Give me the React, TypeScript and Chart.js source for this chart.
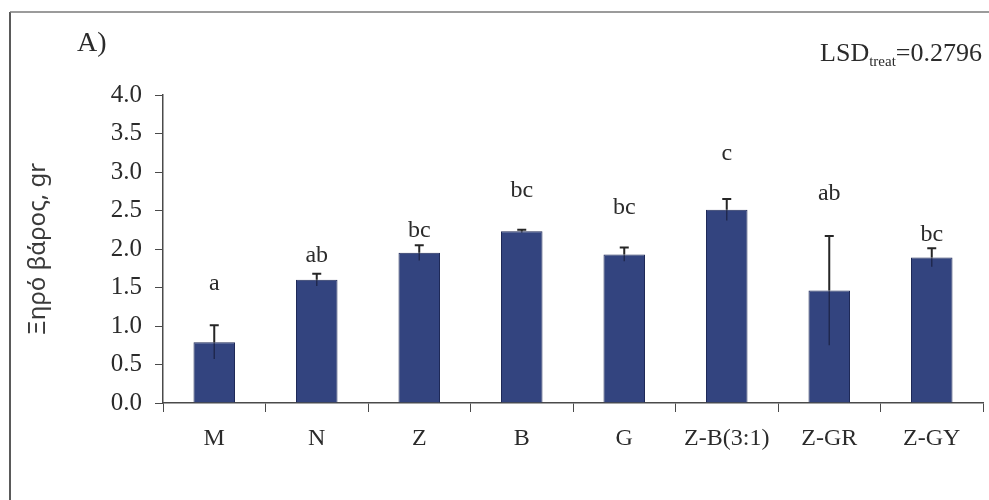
import { useEffect, useRef } from "react";
import { Chart, registerables } from "chart.js";

Chart.register(...registerables);

// Treatments and mean dry weight (g) with standard errors
const treatments = ["M", "N", "Z", "B", "G", "Z-B(3:1)", "Z-GR", "Z-GY"];
const dryWeight = [0.79, 1.6, 1.95, 2.23, 1.93, 2.51, 1.46, 1.89];
const stdError = [0.22, 0.08, 0.1, 0.02, 0.09, 0.14, 0.71, 0.12];

// Significance groups and the axis level where each letter sits
const groupLetters = ["a", "ab", "bc", "bc", "bc", "c", "ab", "bc"];
const letterLevels = [1.47, 1.83, 2.16, 2.68, 2.46, 3.16, 2.64, 2.11];

const yMin = 0;
const yMax = 4;
const yStep = 0.5;

const panelLabel = "A)";
const lsdLabel = "LSD";
const lsdSub = "treat";
const lsdValue = "=0.2796";
const yTitle = "Ξηρό βάρος, gr";

const SERIF = '"Liberation Serif", "Times New Roman", Times, serif';
const SANS = '"Noto Sans", "DejaVu Sans", sans-serif';
const INK = "#2b2b2b";
const AXIS = "#4a4a4a";

const decorPlugin = {
  id: "decor",
  beforeDraw(chart: any) {
    const { ctx, width, height } = chart;
    ctx.save();
    ctx.fillStyle = "#ffffff";
    ctx.fillRect(0, 0, width, height);
    // outer frame (left and top edges)
    ctx.strokeStyle = "#5a5a5a";
    ctx.lineWidth = 2;
    ctx.beginPath();
    ctx.moveTo(10, height + 2);
    ctx.lineTo(10, 12);
    ctx.stroke();
    ctx.strokeStyle = "#7a7a7a";
    ctx.lineWidth = 1.5;
    ctx.beginPath();
    ctx.moveTo(10, 12);
    ctx.lineTo(width + 2, 12);
    ctx.stroke();
    ctx.restore();
  },
  afterDatasetsDraw(chart: any) {
    const { ctx } = chart;
    const y = chart.scales.y;
    const meta = chart.getDatasetMeta(0);
    ctx.save();
    meta.data.forEach((bar: any, i: number) => {
      const x = bar.x;
      const v = y.getPixelForValue(dryWeight[i]);
      const hi = y.getPixelForValue(dryWeight[i] + stdError[i]);
      const lo = y.getPixelForValue(dryWeight[i] - stdError[i]);
      // lower whisker, seen through the bar
      ctx.strokeStyle = "rgba(15,18,40,0.55)";
      ctx.lineWidth = 1.5;
      ctx.beginPath();
      ctx.moveTo(x, v);
      ctx.lineTo(x, lo);
      ctx.stroke();
      // upper whisker and cap
      ctx.strokeStyle = "#262626";
      ctx.lineWidth = 2;
      ctx.beginPath();
      ctx.moveTo(x, v);
      ctx.lineTo(x, hi);
      ctx.moveTo(x - 4.5, hi);
      ctx.lineTo(x + 4.5, hi);
      ctx.stroke();
      // group letter
      ctx.fillStyle = INK;
      ctx.font = `24px ${SERIF}`;
      ctx.textAlign = "center";
      ctx.textBaseline = "alphabetic";
      ctx.fillText(groupLetters[i], x, y.getPixelForValue(letterLevels[i]));
    });
    ctx.restore();
  },
  afterDraw(chart: any) {
    const { ctx } = chart;
    ctx.save();
    ctx.fillStyle = INK;
    ctx.textBaseline = "alphabetic";
    ctx.textAlign = "left";
    ctx.font = `28px ${SERIF}`;
    ctx.fillText(panelLabel, 77, 51);

    // LSD note, right aligned
    const mainFont = `26px ${SERIF}`;
    const subFont = `15px ${SERIF}`;
    ctx.font = mainFont;
    const w1 = ctx.measureText(lsdLabel).width;
    const w3 = ctx.measureText(lsdValue).width;
    ctx.font = subFont;
    const w2 = ctx.measureText(lsdSub).width;
    const right = 982;
    let xPos = right - (w1 + w2 + w3);
    const base = 61;
    ctx.font = mainFont;
    ctx.fillText(lsdLabel, xPos, base);
    xPos += w1;
    ctx.font = subFont;
    ctx.fillText(lsdSub, xPos, base + 5);
    xPos += w2;
    ctx.font = mainFont;
    ctx.fillText(lsdValue, xPos, base);
    ctx.restore();
  },
};

export default function App() {
  const canvasRef = useRef<HTMLCanvasElement | null>(null);

  useEffect(() => {
    document.body.style.margin = "0";
    const canvas = canvasRef.current;
    if (!canvas) return;
    const chart = new Chart(canvas, {
      type: "bar",
      data: {
        labels: treatments,
        datasets: [
          {
            data: dryWeight,
            backgroundColor: "#33447f",
            borderColor: "#1f2a58",
            borderWidth: 1,
            categoryPercentage: 1,
            barPercentage: 0.405,
          },
        ],
      },
      options: {
        responsive: false,
        animation: false,
        devicePixelRatio: 1,
        layout: { padding: { top: 95, right: 6, left: 0, bottom: 0 } },
        plugins: {
          legend: { display: false },
          tooltip: { enabled: false },
        },
        scales: {
          x: {
            grid: {
              display: true,
              drawOnChartArea: false,
              drawTicks: true,
              tickLength: 9,
              tickColor: AXIS,
              tickWidth: 1,
              offset: true,
            },
            border: { display: true, color: AXIS, width: 1.5 },
            ticks: {
              color: INK,
              padding: 12,
              font: { family: SERIF, size: 24 },
              maxRotation: 0,
              autoSkip: false,
            },
            afterFit: (scale: any) => {
              scale.height = 97;
            },
          },
          y: {
            min: yMin,
            max: yMax,
            grid: {
              display: true,
              drawOnChartArea: false,
              drawTicks: true,
              tickLength: 8,
              tickColor: AXIS,
              tickWidth: 1,
            },
            border: { display: true, color: AXIS, width: 1.5 },
            ticks: {
              stepSize: yStep,
              color: INK,
              padding: 13,
              font: { family: SERIF, size: 25 },
              callback: (v: any) => Number(v).toFixed(1),
            },
            title: {
              display: true,
              text: yTitle,
              color: "#3a3a3a",
              font: { family: SANS, size: 24 },
              padding: { top: 24, bottom: 0 },
            },
            afterFit: (scale: any) => {
              scale.width = 163;
            },
          },
        },
      },
      plugins: [decorPlugin],
    });
    return () => chart.destroy();
  }, []);

  return (
    <canvas
      ref={canvasRef}
      width={989}
      height={500}
      style={{ display: "block", width: 989, height: 500 }}
    />
  );
}
